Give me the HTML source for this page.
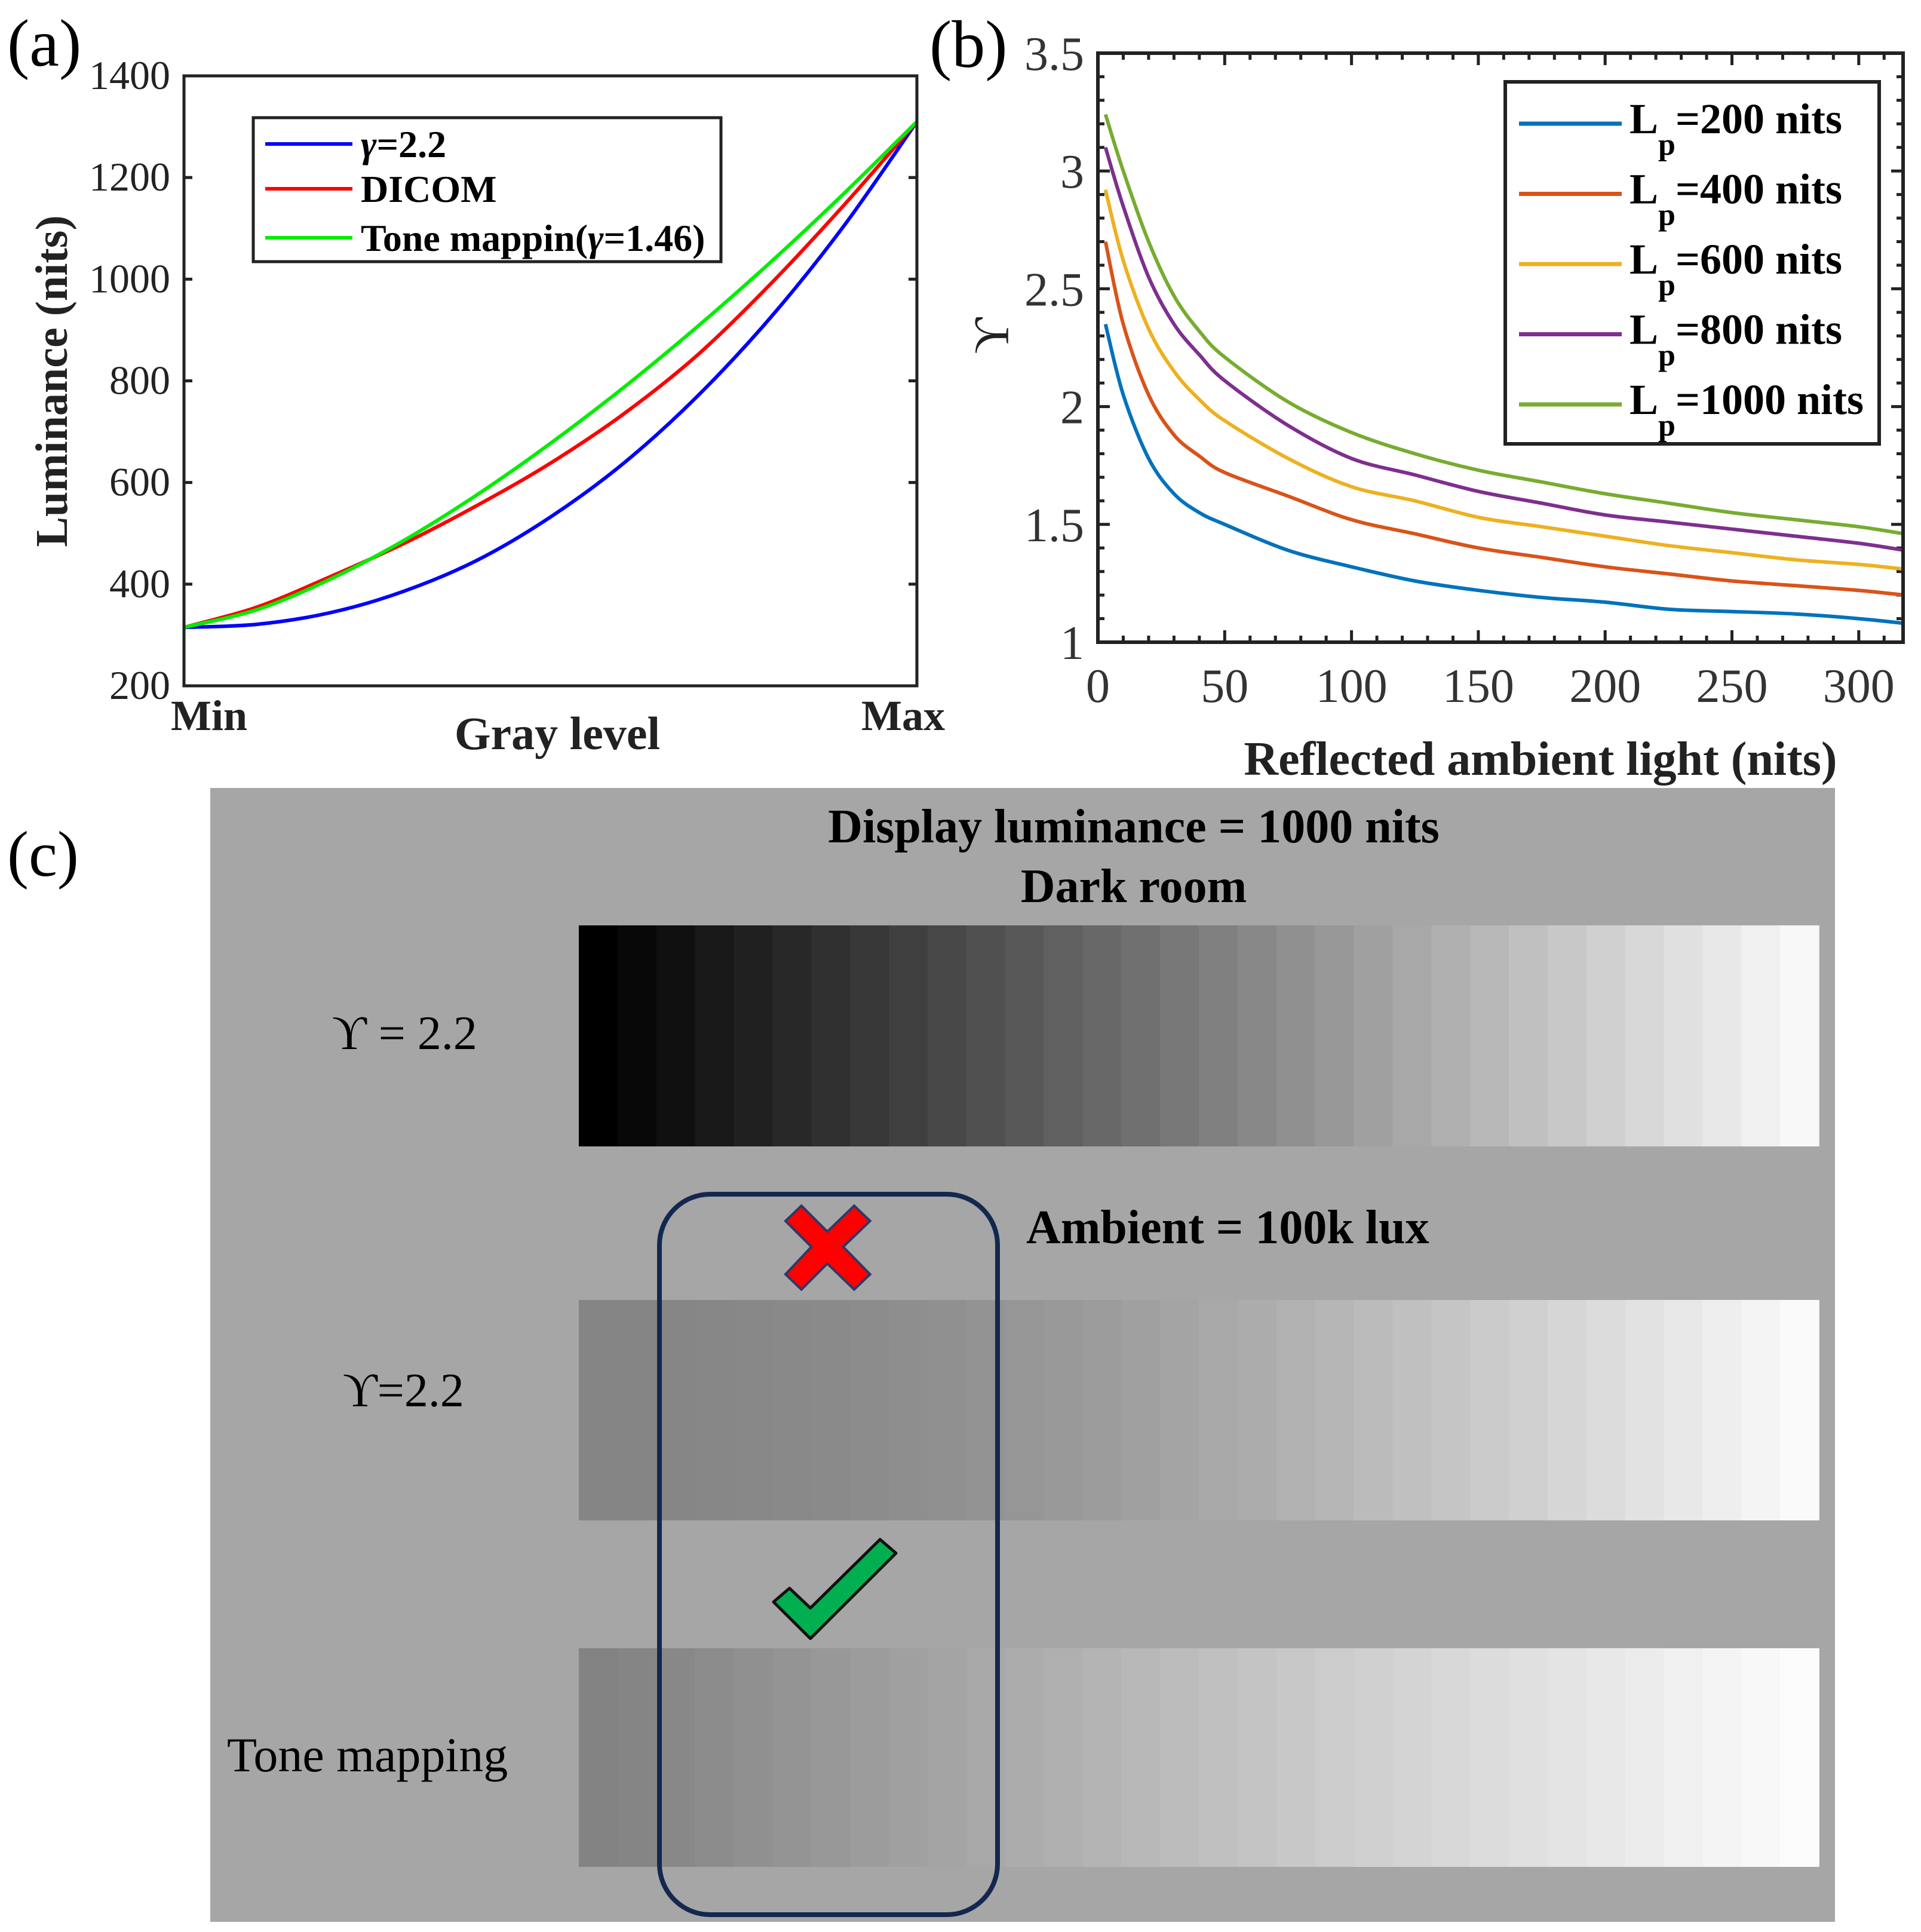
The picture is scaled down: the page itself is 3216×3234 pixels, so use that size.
<!DOCTYPE html>
<html><head><meta charset="utf-8"><style>html,body{margin:0;padding:0;background:#fff}svg{display:block}</style></head>
<body>
<svg id="fig" xmlns="http://www.w3.org/2000/svg" width="3216" height="3234" viewBox="0 0 3216 3234" font-family="Liberation Serif, serif">
<rect width="3216" height="3234" fill="#fff"/>
<g id="pa"></g>
<g id="pb"></g>
<g id="pc"></g>
</svg>
<script>
// ---- Panel (a) data ----
const aX = [0,0.1,0.2,0.3,0.4,0.5,0.6,0.7,0.8,0.9,1];
const aGamma = [315,321,344,386,447,532,638,769,924,1104,1310];
const aDicom = [315,355,415,480,555,638,735,850,990,1145,1310];
const aTone = [315,350,410,486,576,677,787,906,1033,1168,1310];
const aYTicks = [200,400,600,800,1000,1200,1400];
// ---- Panel (b) data ----
const bX = [3,10,20,30,40,50,75,100,125,150,175,200,225,250,275,300,318];
const b200 = [2.35,2.05,1.78,1.63,1.55,1.50,1.39,1.32,1.26,1.22,1.19,1.17,1.14,1.13,1.12,1.10,1.08];
const b400 = [2.70,2.35,2.05,1.88,1.79,1.72,1.62,1.52,1.46,1.40,1.36,1.32,1.29,1.26,1.24,1.22,1.20];
const b600 = [2.92,2.62,2.33,2.15,2.03,1.94,1.78,1.66,1.60,1.53,1.49,1.45,1.41,1.38,1.35,1.33,1.31];
const b800 = [3.10,2.85,2.55,2.35,2.22,2.11,1.92,1.78,1.71,1.64,1.59,1.54,1.51,1.48,1.45,1.42,1.39];
const b1000 = [3.24,3.00,2.70,2.47,2.32,2.21,2.02,1.89,1.80,1.73,1.68,1.63,1.59,1.55,1.52,1.49,1.46];
const bXTicks = [0,50,100,150,200,250,300];
const bYTicks = [1,1.5,2,2.5,3,3.5];
const bYLabels = ["1","1.5","2","2.5","3","3.5"];
const bLegend = ["=200 nits","=400 nits","=600 nits","=800 nits","=1000 nits"];
// ---- Panel (c) data: gray level of each step ----
const strip1 = [0,8,16,24,32,40,48,56,64,72,80,88,96,104,112,120,128,136,144,152,160,168,176,184,192,200,208,216,224,232,240,248];
const strip2 = [133,133,134,135,136,137,138,140,142,144,147,150,153,156,160,164,168,172,177,182,187,192,197,203,208,214,220,226,232,238,244,250];
const strip3 = [131,133,136,140,144,148,152,156,160,164,168,172,176,180,184,188,192,196,200,204,208,212,216,220,224,228,232,236,240,244,248,252];

const NS="http://www.w3.org/2000/svg";
function mk(p,tag,at,txt){const e=document.createElementNS(NS,tag);for(const k in at)e.setAttribute(k,at[k]);if(txt!==undefined)e.textContent=txt;p.appendChild(e);return e;}
function smooth(pts){
 let d='M'+pts[0][0].toFixed(1)+','+pts[0][1].toFixed(1);
 for(let i=0;i<pts.length-1;i++){
  const p0=pts[Math.max(0,i-1)],p1=pts[i],p2=pts[i+1],p3=pts[Math.min(pts.length-1,i+2)];
  const c1x=p1[0]+(p2[0]-p0[0])/6,c1y=p1[1]+(p2[1]-p0[1])/6;
  const c2x=p2[0]-(p3[0]-p1[0])/6,c2y=p2[1]-(p3[1]-p1[1])/6;
  d+=' C'+c1x.toFixed(1)+','+c1y.toFixed(1)+' '+c2x.toFixed(1)+','+c2y.toFixed(1)+' '+p2[0].toFixed(1)+','+p2[1].toFixed(1);
 }
 return d;
}

// ===== Panel A =====
(function(){
const g=document.getElementById('pa');
const L=308,R=1535,T=127,B=1148;
const sx=v=>L+(R-L)*v, sy=v=>B-(B-T)*(v-200)/1200;
let t=mk(g,'text',{x:12,y:110,'font-size':112},'(a)');


aYTicks.forEach(v=>{
 let tl=mk(g,'text',{x:285,y:sy(v)+22,'font-size':68,'text-anchor':'end',fill:'#222'},String(v));
 
 
 mk(g,'line',{x1:L,x2:L+14,y1:sy(v),y2:sy(v),stroke:'#222','stroke-width':5});
 mk(g,'line',{x1:R,x2:R-14,y1:sy(v),y2:sy(v),stroke:'#222','stroke-width':5});
});
const series=[[aGamma,'#0000ff','curve-gamma-2-2'],[aDicom,'#ff0000','curve-dicom'],[aTone,'#00ee00','curve-tone-mapping']];
series.forEach(s=>{
 const d=smooth(aX.map((x,i)=>[sx(x),sy(s[0][i])]));
 const p=mk(g,'path',{d:d,fill:'none',stroke:s[1],'stroke-width':6,'stroke-linejoin':'round'});
 
 
});
mk(g,'rect',{x:L,y:T,width:R-L,height:B-T,fill:'none',stroke:'#222','stroke-width':5});
const lg=mk(g,'g',{});


mk(lg,'rect',{x:424,y:197,width:783,height:241,fill:'#fff',stroke:'#222','stroke-width':5});
const ly=[241,316,398];
series.forEach((s,i)=>{
 mk(lg,'line',{x1:444,x2:590,y1:ly[i],y2:ly[i],stroke:s[1],'stroke-width':6});
 const e=mk(lg,'text',{x:604,y:ly[i]+22,'font-size':64,'font-weight':'bold'});
 
 
 if(i===0){mk(e,'tspan',{'font-style':'italic'},'γ');mk(e,'tspan',{},'=2.2');}
 else if(i===1){mk(e,'tspan',{},'DICOM');}
 else {mk(e,'tspan',{},'Tone mappin(');mk(e,'tspan',{'font-style':'italic'},'γ');mk(e,'tspan',{},'=1.46)');}
});
let a1=mk(g,'text',{x:286,y:1222,'font-size':72,'font-weight':'bold',fill:'#222'},'Min');

let a2=mk(g,'text',{x:1442,y:1222,'font-size':72,'font-weight':'bold',fill:'#222'},'Max');

let a3=mk(g,'text',{x:933,y:1254,'font-size':78,'font-weight':'bold','text-anchor':'middle',fill:'#222'},'Gray level');

let a4=mk(g,'text',{x:0,y:0,'font-size':76,'font-weight':'bold','text-anchor':'middle',fill:'#222',transform:'translate(112,638) rotate(-90)'},'Luminance (nits)');

})();

// ===== Panel B =====
(function(){
const g=document.getElementById('pb');
const L=1838,R=3186,T=89,B=1075;
const sx=v=>L+(v/50)*212.3, sy=v=>B-(B-T)*(v-1)/2.5;
let t=mk(g,'text',{x:1556,y:112,'font-size':112},'(b)');

for(let v=0;v<=318;v+=10){const big=v%50===0;const l=big?20:11;
 mk(g,'line',{x1:sx(v),x2:sx(v),y1:B,y2:B-l,stroke:'#222','stroke-width':5});
 mk(g,'line',{x1:sx(v),x2:sx(v),y1:T,y2:T+l,stroke:'#222','stroke-width':5});}
for(let k=0;k<=25;k++){const v=1+k*0.1;const big=k%5===0;const l=big?20:11;
 mk(g,'line',{x1:L,x2:L+l,y1:sy(v),y2:sy(v),stroke:'#222','stroke-width':5});
 mk(g,'line',{x1:R,x2:R-l,y1:sy(v),y2:sy(v),stroke:'#222','stroke-width':5});}
bXTicks.forEach(v=>{const e=mk(g,'text',{x:sx(v),y:1175,'font-size':80,'text-anchor':'middle',fill:'#333'},String(v));
 });
bYTicks.forEach((v,i)=>{const e=mk(g,'text',{x:1815,y:sy(v)+28,'font-size':80,'text-anchor':'end',fill:'#333'},bYLabels[i]);
 });
const cols=['#0072bd','#d95319','#edb120','#7e2f8e','#77ac30'];
[b200,b400,b600,b800,b1000].forEach((s,j)=>{
 const d=smooth(bX.map((x,i)=>[sx(x),sy(s[i])]));
 const p=mk(g,'path',{d:d,fill:'none',stroke:cols[j],'stroke-width':6,'stroke-linejoin':'round'});
 
 
});
mk(g,'rect',{x:L,y:T,width:R-L,height:B-T,fill:'none',stroke:'#222','stroke-width':6});
const lg=mk(g,'g',{});

mk(lg,'rect',{x:2520,y:137,width:626,height:606,fill:'#fff',stroke:'#222','stroke-width':6});
bLegend.forEach((s,i)=>{const y=207+i*117.5;
 mk(lg,'line',{x1:2543,x2:2715,y1:y,y2:y,stroke:cols[i],'stroke-width':7});
 const e=mk(lg,'text',{x:2728,y:y+16,'font-size':72,'font-weight':'bold'});
 
 mk(e,'tspan',{},'L');mk(e,'tspan',{'font-size':52,dy:36},'p');mk(e,'tspan',{dy:-36},s);
});
let e1=mk(g,'text',{x:2579,y:1297,'font-size':80,'font-weight':'bold','text-anchor':'middle',fill:'#222'},'Reflected ambient light (nits)');

let e2=mk(g,'text',{x:0,y:0,'font-size':84,'text-anchor':'middle',fill:'#222',transform:'translate(1688,562) rotate(-90)'},'ϒ');

})();

// ===== Panel C =====
(function(){
const g=document.getElementById('pc');
let t=mk(g,'text',{x:12,y:1466,'font-size':108},'(c)');

const bg=mk(g,'rect',{x:352,y:1319,width:2720,height:1898,fill:'#a6a6a6'});

const X0=969,X1=3045;
[[strip1,1549,1919,'strip-dark-room'],[strip2,2176,2545,'strip-ambient-gamma'],[strip3,2759,3125,'strip-tone-mapping']].forEach(s=>{
 const sg=mk(g,'g',{});
 const w=(X1-X0)/s[0].length;
 s[0].forEach((v,i)=>{mk(sg,'rect',{x:(X0+i*w).toFixed(1),y:s[1],width:(w+0.8).toFixed(1),height:s[2]-s[1],fill:`rgb(${v},${v},${v})`});});
});
const tx=(x,y,s,opt,name)=>{const e=mk(g,'text',Object.assign({x:x,y:y,'font-size':80},opt),s);return e;};
tx(1898,1410,'Display luminance = 1000 nits',{'font-weight':'bold','text-anchor':'middle'},'title-display-luminance');
tx(1898,1510,'Dark room',{'font-weight':'bold','text-anchor':'middle'},'title-dark-room');
tx(1718,2081,'Ambient = 100k lux',{'font-weight':'bold'},'title-ambient');
tx(556,1756,'ϒ = 2.2',{'font-size':80},'row-label-gamma-dark');
tx(574,2354,'ϒ=2.2',{'font-size':80},'row-label-gamma-ambient');
tx(380,2965,'Tone mapping',{'font-size':82},'row-label-tone-mapping');
const box=mk(g,'rect',{x:1104,y:1999,width:566,height:1206,rx:85,ry:85,fill:'none',stroke:'#13284f','stroke-width':8});

const cx=(x,y)=>(x/3+1200).toFixed(1)+','+(y/1.96+1980).toFixed(1);
const xp=[[345,125],[425,75],[555,160],[690,75],[770,125],[635,210],[770,300],[690,350],[555,265],[425,350],[345,300],[475,210]];
const xm=mk(g,'polygon',{points:xp.map(p=>cx(p[0],p[1])).join(' '),fill:'#ff0000',stroke:'#2a3a6a','stroke-width':4});

const cp=[[285,1375],[365,1330],[470,1395],[820,1170],[900,1215],[470,1495]];
const cm=mk(g,'polygon',{points:cp.map(p=>cx(p[0],p[1])).join(' '),fill:'#00b050',stroke:'#111','stroke-width':5,'stroke-linejoin':'round'});

})();
</script>
</body></html>
